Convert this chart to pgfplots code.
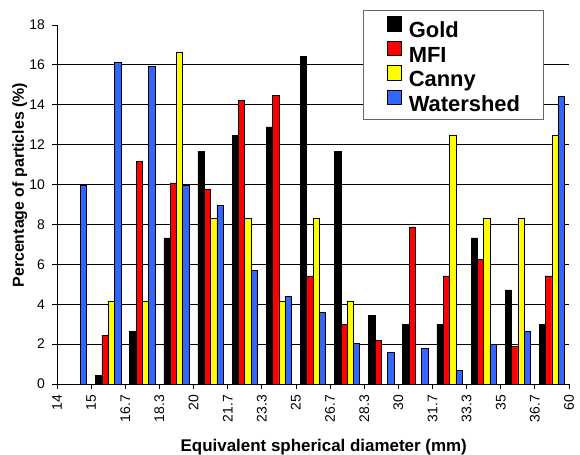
\documentclass[border=0pt]{standalone}
\usepackage{fontspec}
\setmainfont{Liberation Sans}
\usepackage{pgfplots}
\pgfplotsset{compat=1.18}
\definecolor{cmfi}{RGB}{255,0,0}
\definecolor{ccanny}{RGB}{255,255,0}
\definecolor{cws}{RGB}{51,102,255}
\begin{document}
\begin{tikzpicture}
\path[use as bounding box] (-57bp,-71bp) rectangle (523bp,384bp);
\begin{axis}[
  at={(0,0)}, anchor=south west,
  scale only axis, width=512bp, height=359bp,
  xmin=0, xmax=15, ymin=0, ymax=18,
  axis x line=bottom, axis y line=left,
  axis line style={-, black, line width=0.8bp},
  xtick={0,...,15},
  xticklabels={14,15,16.7,18.3,20,21.7,23.3,25,26.7,28.3,30,31.7,33.3,35,36.7,60},
  ytick={0,2,...,18},
  extra y ticks={2,4,...,16},
  extra y tick labels={},
  extra y tick style={grid=major, major tick length=0pt},
  major grid style={black, line width=0.8bp},
  tick align=outside,
  major tick length=5bp,
  tick style={black, line width=0.8bp},
  /pgf/number format/assume math mode=true,
  ticklabel style={font=\fontsize{14}{16}\selectfont},
  xticklabel style={rotate=90, anchor=east, inner xsep=6bp, inner ysep=2bp},
  yticklabel style={inner sep=2bp, xshift=-5bp},
  xlabel={Equivalent spherical diameter (mm)},
  ylabel={Percentage of particles (\%)},
  xlabel style={at={(axis description cs:0.521,0)}, yshift=-67bp, anchor=base, font=\fontsize{17}{19}\selectfont\bfseries},
  ylabel style={at={(axis description cs:0,0.554)}, yshift=33bp, anchor=base, font=\fontsize{16}{18}\selectfont\bfseries},
  bar width=0.185,
  legend style={at={(axis description cs:0.5977,1.0418)}, anchor=north west,
    draw=black!60, line width=1bp, fill=white,
    font=\fontsize{22}{24}\selectfont\bfseries,
    inner xsep=23bp, inner ysep=6bp, row sep=1bp,
    nodes={inner sep=0pt, text height=20bp, text depth=2bp},
    /tikz/every odd column/.append style={column sep=7bp}},
  legend cell align=left,
  legend image code/.code={\draw[#1, draw=black, line width=0.8bp] (0bp,-2.6bp) rectangle (14.5bp,12bp);},
]
\addplot[ybar, bar shift=-0.2775, fill=black, draw=black, line width=0.6bp] coordinates {
 (0.5,0) (1.5,0.42) (2.5,2.62) (3.5,7.33) (4.5,11.66) (5.5,12.48) (6.5,12.89) (7.5,16.41)
 (8.5,11.68) (9.5,3.43) (10.5,3.0) (11.5,3.0) (12.5,7.33) (13.5,4.72) (14.5,3.0)};
\addplot[ybar, bar shift=-0.0925, fill=cmfi, draw=black, line width=0.6bp] coordinates {
 (0.5,0) (1.5,2.45) (2.5,11.17) (3.5,10.08) (4.5,9.78) (5.5,14.23) (6.5,14.48) (7.5,5.42)
 (8.5,3.0) (9.5,2.17) (10.5,7.88) (11.5,5.42) (12.5,6.23) (13.5,1.9) (14.5,5.42)};
\addplot[ybar, bar shift=0.0925, fill=ccanny, draw=black, line width=0.6bp] coordinates {
 (0.5,0) (1.5,4.15) (2.5,4.15) (3.5,16.65) (4.5,8.3) (5.5,8.3) (6.5,4.15) (7.5,8.3)
 (8.5,4.15) (9.5,0) (10.5,0) (11.5,12.49) (12.5,8.3) (13.5,8.3) (14.5,12.49)};
\addplot[ybar, bar shift=0.2775, fill=cws, draw=black, line width=0.6bp] coordinates {
 (0.5,9.95) (1.5,16.13) (2.5,15.95) (3.5,9.95) (4.5,8.97) (5.5,5.68) (6.5,4.4) (7.5,3.58)
 (8.5,2.03) (9.5,1.58) (10.5,1.78) (11.5,0.7) (12.5,1.98) (13.5,2.65) (14.5,14.43)};
\legend{Gold,MFI,Canny,Watershed}
\end{axis}
\end{tikzpicture}
\end{document}
